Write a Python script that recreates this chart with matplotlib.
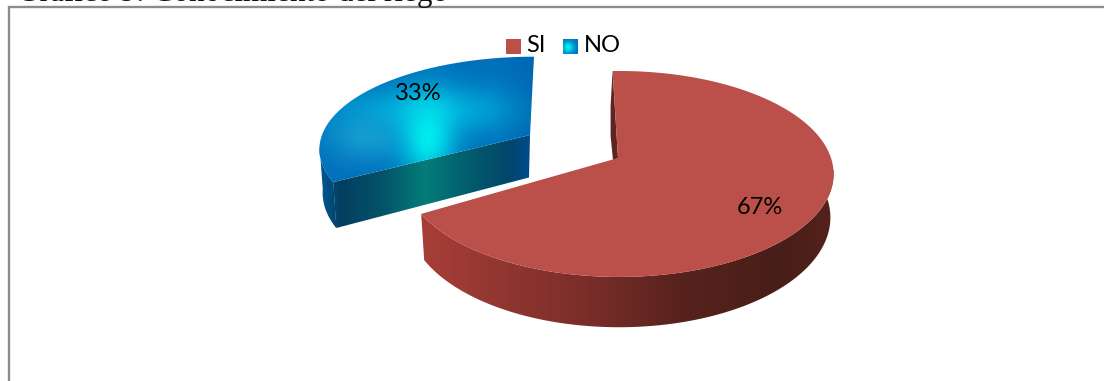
import numpy as np
import matplotlib

matplotlib.use("Agg")

import matplotlib.pyplot as plt
from matplotlib.patches import Polygon, Rectangle

plt.rcParams["font.family"] = ["Lato", "DejaVu Sans"]

categories = ["SI", "NO"]
shares = [67, 33]
share_labels = ["67%", "33%"]
title = "Gráfico 9: Conocimiento del riego"

WIDTH, HEIGHT = 1104, 381
RX, RY, PERSP = 212.0, 100.5, 0.155
WALL = 42.5
BOTTOM_SHRINK = 0.985


def project(center, phi_deg, drop=0.0, y_scale=1.0):
    """Project pie-disk points (clockwise from 12 o'clock) with a simple perspective."""
    phi = np.radians(np.asarray(phi_deg, dtype=float))
    u = np.sin(phi)
    v = -np.cos(phi)
    w = 1 - PERSP * v
    x_scale = BOTTOM_SHRINK if drop else 1.0
    x = center[0] + x_scale * RX * u / w
    y = center[1] + y_scale * RY * v / w + drop / w
    return x, y


def gradient_rgb(xs, stops):
    pos = [s[0] for s in stops]
    rgb = np.array([s[1] for s in stops], dtype=float) / 255
    return np.stack([np.interp(xs, pos, rgb[:, i]) for i in range(3)], axis=-1)


def paint(ax, image, x0, x1, y0, y1, verts, zorder):
    patch = Polygon(verts, closed=True, transform=ax.transData, fc="none", ec="none")
    ax.add_patch(patch)
    im = ax.imshow(image, extent=(x0, x1, y1, y0), zorder=zorder, interpolation="bilinear", aspect="auto")
    im.set_clip_path(patch)
    return im


def wall_polygon(center, a0, a1, y_scale=1.0):
    phi = np.linspace(a0, a1, 160)
    tx, ty = project(center, phi, y_scale=y_scale)
    bx, by = project(center, phi, drop=WALL, y_scale=y_scale)
    return np.vstack([np.c_[tx, ty], np.c_[bx, by][::-1]])


fig = plt.figure(figsize=(WIDTH / 100, HEIGHT / 100), dpi=100)
ax = fig.add_axes([0, 0, 1, 1])
ax.set_xlim(0, WIDTH)
ax.set_ylim(HEIGHT, 0)
ax.axis("off")

# caption sits mostly above the page edge, only its lower part shows
ax.text(17, 0.5, title, family=["Liberation Serif"], fontsize=22.5, color="#111111", va="baseline", ha="left")

# chart frame: only the top and left borders are on the page
ax.plot([8.5, 8.5, WIDTH], [HEIGHT, 7, 7], color="#8c8c8c", lw=1.7, solid_joinstyle="miter", zorder=1)

sweep = [s / sum(shares) * 360 for s in shares]
start = -2.0
red_disk = (619, 158)
red_apex = (618, 158)
blue_disk = (534, 135)
blue_apex = (530, 135)
BLUE_Y = 0.9
red_span = (start, start + sweep[0])
blue_span = (start + sweep[0] + 2, start + 362)

# exploded NO slice: radial wall first, then the lit top face
bx0, by0 = project(blue_disk, blue_span[0], y_scale=BLUE_Y)
bx1, by1 = project(blue_disk, blue_span[0], drop=WALL, y_scale=BLUE_Y)
cut_verts = [(bx0, by0), blue_apex, (blue_apex[0] - 1, blue_apex[1] + WALL), (bx1, by1)]
curve = wall_polygon(blue_disk, blue_span[0] - 0.1, blue_span[0] + 22, y_scale=BLUE_Y)
xs = np.linspace(310, 540, 240)
cut_img = gradient_rgb(xs, [(320, (0, 90, 150)), (340, (4, 62, 96)), (385, (3, 85, 105)), (425, (4, 125, 122)),
                            (470, (2, 92, 108)), (510, (2, 70, 108)), (530, (0, 75, 140))])[np.newaxis, :, :]
paint(ax, cut_img, 310, 540, 120, 235, cut_verts, 2)
paint(ax, cut_img, 310, 540, 120, 235, curve, 2)

phi = np.linspace(*blue_span, 200)
tx, ty = project(blue_disk, phi, y_scale=BLUE_Y)
top_verts = np.vstack([blue_apex, np.c_[tx, ty]])
gx, gy = np.meshgrid(np.linspace(310, 540, 240), np.linspace(40, 190, 160))
base = np.array([0, 112, 188]) / 255
glow = np.array([0, 240, 242]) / 255
side = np.array([28, 170, 214]) / 255
image = np.ones(gx.shape + (3,)) * base
band = 0.7 * np.exp(-((gx - 430) / 95) ** 2 - ((gy - 110) / 24) ** 2)
image = image + (np.array([0, 200, 232]) / 255 - image) * band[..., None]
lobe = 0.7 * np.exp(-((gx - 365) / 38) ** 2 - ((gy - 138) / 24) ** 2)
image = image + (side - image) * lobe[..., None]
beam = 0.95 * np.exp(-((gx - 428) / 27) ** 2 - ((gy - 138) / 42) ** 2)
image = image + (glow - image) * beam[..., None]
corner = np.clip((gx - 495) / 40, 0, 1) * 0.5
image = image + (np.array([0, 95, 170]) / 255 - image) * corner[..., None]
paint(ax, image, 310, 540, 40, 190, top_verts, 3)

# SI slice: outer wall, inner sliver at the start edge, then the flat top
wall_verts = wall_polygon(red_disk, 90 - 15, red_span[1])
wall_img = gradient_rgb(np.linspace(410, 840, 300), [(420, (168, 62, 56)), (520, (140, 52, 47)), (600, (118, 44, 40)),
                                                     (680, (88, 34, 29)), (780, (72, 30, 24)), (835, (84, 34, 28))])[np.newaxis, :, :]
paint(ax, wall_img, 410, 840, 170, 335, wall_verts, 4)

sx, sy = project(red_disk, red_span[0])
ax.add_patch(Polygon([(sx, sy), (sx - 2, sy + 35), (sx - 2, sy + 65), (red_apex[0] - 5, red_apex[1] + 2), red_apex],
                     closed=True, fc="#5e2420", ec="none", zorder=4))

phi = np.linspace(*red_span, 300)
tx, ty = project(red_disk, phi)
ax.add_patch(Polygon(np.vstack([red_apex, np.c_[tx, ty]]), closed=True, fc="#bb4f49", ec="none", zorder=5))

ax.text(760, 207, share_labels[0], fontsize=17, color="black", ha="center", va="center", zorder=7)
ax.text(418, 94, share_labels[1], fontsize=17, color="black", ha="center", va="center", zorder=7)

# legend row, the NO key carries the same cyan sheen as its slice
ax.add_patch(Rectangle((506, 39), 15, 15, fc="#bb4f49", ec="none", zorder=8))
key_x, key_y = np.meshgrid(np.linspace(0, 1, 20), np.linspace(0, 1, 20))
key = np.ones(key_x.shape + (3,)) * np.array([0, 112, 188]) / 255
sheen = np.exp(-((key_x - 0.35) / 0.4) ** 2 - ((key_y - 0.55) / 0.4) ** 2)
key = key + (glow - key) * sheen[..., None]
ax.imshow(key, extent=(563, 578, 54, 39), zorder=8, interpolation="bilinear", aspect="auto")
ax.set_xlim(0, WIDTH)
ax.set_ylim(HEIGHT, 0)
ax.text(526, 46, categories[0], fontsize=17, color="black", ha="left", va="center", zorder=8)
ax.text(584, 46, categories[1], fontsize=17, color="black", ha="left", va="center", zorder=8)

fig.savefig("out.png", dpi=100, facecolor="white")
plt.close(fig)
